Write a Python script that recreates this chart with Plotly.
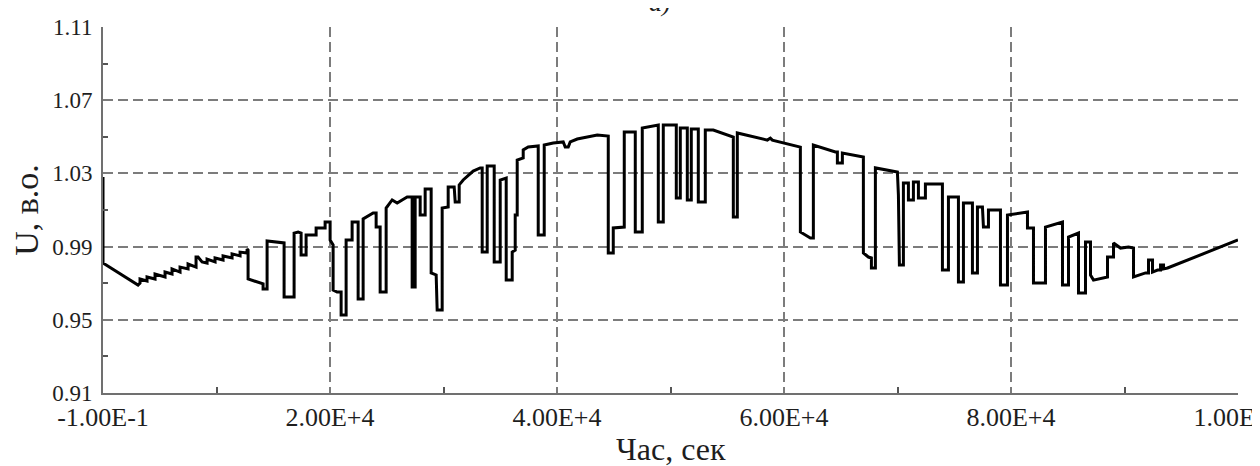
import plotly.graph_objects as go

# Time, s
time_s = [
    0, 0, 3085, 3262, 3262, 3879, 3879, 4584, 4584, 5465, 5465, 6082, 6082, 6788, 6788,
    7493, 7493, 8198, 8198, 8374, 8727, 9168, 9168, 9873, 9873, 10578, 10578, 11371, 11371,
    12077, 12077, 12694, 12694, 12782,
    12782, 13663, 13840, 14104, 14104, 14457, 14457, 15603, 15955, 15955, 16837, 16837,
    17189, 17454, 17454, 17894, 17894, 18776, 18776, 19569, 19569, 20010, 20010, 20274,
    20274, 20627, 20980, 20980, 21420, 21420, 21949, 21949, 22478, 22478, 22919, 22919,
    23801, 24065, 24065, 24418, 24418, 24946, 24946, 25476, 25917, 26357, 26798, 27238,
    27238, 27503, 27503, 27944, 27944, 28384, 28384, 28913, 28913, 29354, 29442, 29883,
    29883, 30412, 30412, 30941, 31029, 31381, 31381, 31734, 32616, 33233, 33409, 33409,
    33850, 33850, 34467, 34467, 34996, 34996, 35524, 35524, 36053, 36053, 36318, 36318,
    36494, 36494, 37023, 37023, 37464, 38345, 38345, 38874, 38874, 39668, 40549, 40725,
    40990, 41166, 41783, 43546, 44516, 44516, 44957, 44957, 45926, 45926, 46896, 46896,
    47513, 47513, 47954, 48924, 48924, 49364, 49364, 50510, 50510, 50863, 50863, 51480,
    51480, 51832, 51832, 52449, 52449, 53066, 53066, 53772, 55535, 55535, 55886, 55886,
    58532, 58797, 58973, 61441, 61441, 62323, 62587, 62587, 64527, 64703, 64703, 65143,
    65143, 66994, 66994, 67435, 67700, 67700, 68052, 68052, 69991, 70080, 70167, 70520,
    70520, 70961, 70961, 71402, 71402, 71842, 71842, 72459, 72459, 73958, 73958, 74487,
    74487, 75368, 75368, 75809, 75809, 76602, 76602, 77043, 77043, 77484, 77572, 78013,
    78013, 79071, 79071, 79688, 79688, 81451, 81451, 81980, 81980, 83037, 83037, 84536,
    84536, 85065, 85065, 85946, 85946, 86563, 86563, 87004, 87004, 87269, 88503, 88503,
    89032, 89032, 89649, 90354, 90795, 90795, 91853, 92117, 92117, 92469, 92469, 92910,
    93175, 93175, 93439, 93439, 93792, 100000,
]

# Voltage, p.u.
u_pu = [
    1.028, 0.981, 0.969, 0.9701, 0.9723, 0.9712, 0.9734, 0.9723, 0.9750, 0.9734, 0.9761,
    0.9750, 0.9778, 0.9761, 0.9788, 0.9778, 0.9805, 0.9788, 0.9843, 0.9843, 0.9816,
    0.9810, 0.9832, 0.9816, 0.9838, 0.9827, 0.9849, 0.9838, 0.9860, 0.9849, 0.9870,
    0.9865, 0.9887, 0.9881,
    0.9723, 0.9706, 0.9701, 0.9696, 0.9668, 0.9668, 0.9931, 0.9920, 0.9920, 0.9625,
    0.9625, 0.9974, 0.9980, 0.9974, 0.9854, 0.9854, 0.9963, 0.9963, 1.0002, 1.0002,
    1.0034, 1.0034, 0.9936, 0.9909, 0.9663, 0.9652, 0.9652, 0.9526, 0.9526, 0.9936,
    0.9936, 1.0034, 1.0034, 0.9614, 0.9614, 1.0051, 1.0084, 1.0084, 1.0007, 1.0007,
    0.9652, 0.9652, 1.0111, 1.0155, 1.0138, 1.0155, 1.0171, 1.0171, 0.9679, 0.9679,
    1.0171, 1.0171, 1.0073, 1.0073, 1.0215, 1.0215, 0.9756, 0.9745, 0.9554, 0.9554,
    1.0111, 1.0116, 1.0226, 1.0226, 1.0144, 1.0144, 1.0237, 1.0264, 1.0313, 1.0330,
    1.0330, 0.9870, 0.9870, 1.0340, 1.0340, 0.9816, 0.9816, 1.0264, 1.0275, 0.9717,
    0.9717, 0.9870, 0.9881, 1.0073, 1.0073, 1.0373, 1.0384, 1.0428, 1.0444, 1.0450,
    0.9963, 0.9963, 1.0455, 1.0466, 1.0472, 1.0444, 1.0444, 1.0472, 1.0488, 1.0510,
    1.0504, 0.9865, 0.9865, 1.0002, 1.0007, 1.0526, 1.0526, 0.9980, 0.9980, 1.0548,
    1.0554, 1.0564, 1.0034, 1.0034, 1.0564, 1.0564, 1.0166, 1.0166, 1.0548, 1.0548,
    1.0155, 1.0155, 1.0543, 1.0543, 1.0144, 1.0144, 1.0537, 1.0537, 1.0499, 1.0062,
    1.0062, 1.0521, 1.0482, 1.0493, 1.0482, 1.0444, 0.9980, 0.9947, 0.9947, 1.0455,
    1.0417, 1.0417, 1.0357, 1.0357, 1.0411, 1.0390, 0.9865, 0.9843, 0.9838, 0.9783,
    0.9783, 1.0330, 1.0308, 1.0182, 0.9799, 0.9799, 1.0248, 1.0248, 1.0155, 1.0155,
    1.0253, 1.0253, 1.0166, 1.0166, 1.0242, 1.0242, 0.9772, 0.9772, 1.0171, 1.0171,
    0.9706, 0.9706, 1.0138, 1.0138, 0.9756, 0.9756, 1.0116, 1.0116, 1.0007, 1.0007,
    1.0100, 1.0100, 0.9690, 0.9690, 1.0073, 1.0089, 1.0002, 1.0002, 0.9701, 0.9701,
    1.0007, 1.0034, 0.9690, 0.9690, 0.9952, 0.9974, 0.9646, 0.9646, 0.9925, 0.9925,
    0.9745, 0.9717, 0.9734, 0.9843, 0.9843, 0.9920, 0.9892, 0.9898, 0.9892, 0.9734,
    0.9756, 0.9756, 0.9827, 0.9827, 0.9761, 0.9772, 0.9772, 0.9799, 0.9799, 0.9778,
    0.9783, 0.9936,
]

x_tickvals = [-0.1, 20000, 40000, 60000, 80000, 100000]
x_ticktext = ["-1.00E-1", "2.00E+4", "4.00E+4", "6.00E+4", "8.00E+4", "1.00E+5"]
x_minor = [10000, 30000, 50000, 70000, 90000]
y_tickvals = [0.91, 0.95, 0.99, 1.03, 1.07, 1.11]
y_ticktext = ["0.91", "0.95", "0.99", "1.03", "1.07", "1.11"]
y_minor = [0.93, 0.97, 1.01, 1.05, 1.09]
x_title = "Час, сек"
y_title = "U, в.о."
panel_label = "а)"

FONT = "Liberation Serif"
GRID = "#7c7c7c"
INK = "#1e1e1e"

fig = go.Figure()
fig.add_trace(go.Scatter(
    x=time_s, y=u_pu, mode="lines",
    line=dict(color="#000000", width=3),
    showlegend=False,
))

# page body adds an 8px offset, so the figure is 8px smaller and margins shifted
fig.update_layout(
    width=1252, height=458,
    margin=dict(l=95, r=22, t=19, b=73),
    paper_bgcolor="white", plot_bgcolor="white",
    font=dict(family=FONT, color=INK),
    xaxis=dict(
        range=[-0.1, 100000], automargin=False,
        tickvals=x_tickvals, ticktext=x_ticktext,
        tickfont=dict(size=26, family=FONT, color=INK),
        ticklabeloverflow="allow",
        showgrid=True, gridcolor=GRID, gridwidth=1.8, griddash="10px,5px",
        showline=True, linecolor="#707070", linewidth=2,
        ticks="", zeroline=False, ticklabelstandoff=0,
        minor=dict(tickvals=x_minor, ticks="inside", ticklen=6, tickcolor="#555",
                   tickwidth=1.5, showgrid=False),
    ),
    yaxis=dict(
        range=[0.91, 1.11], automargin=False,
        tickvals=y_tickvals, ticktext=y_ticktext,
        tickfont=dict(size=23, family=FONT, color=INK),
        ticklabeloverflow="allow",
        showgrid=True, gridcolor=GRID, gridwidth=1.8, griddash="10px,5px",
        showline=True, linecolor="#707070", linewidth=2,
        ticks="", zeroline=False, ticklabelstandoff=4,
        minor=dict(tickvals=y_minor, ticks="inside", ticklen=5, tickcolor="#555",
                   tickwidth=1.5, showgrid=False),
        title=dict(text=y_title, font=dict(size=34, family=FONT, color=INK)),
    ),
    annotations=[
        dict(
            text="<i>" + panel_label + "</i>", x=0.491, xref="paper", y=1.068, yref="paper",
            xanchor="center", yanchor="middle", showarrow=False,
            font=dict(size=26, family=FONT, color=INK),
        ),
        dict(
            text=x_title, x=0.5, xref="paper", y=-0.152, yref="paper",
            xanchor="center", yanchor="middle", showarrow=False,
            font=dict(size=32, family=FONT, color=INK),
        ),
    ],
)

fig.write_html("out.html")
